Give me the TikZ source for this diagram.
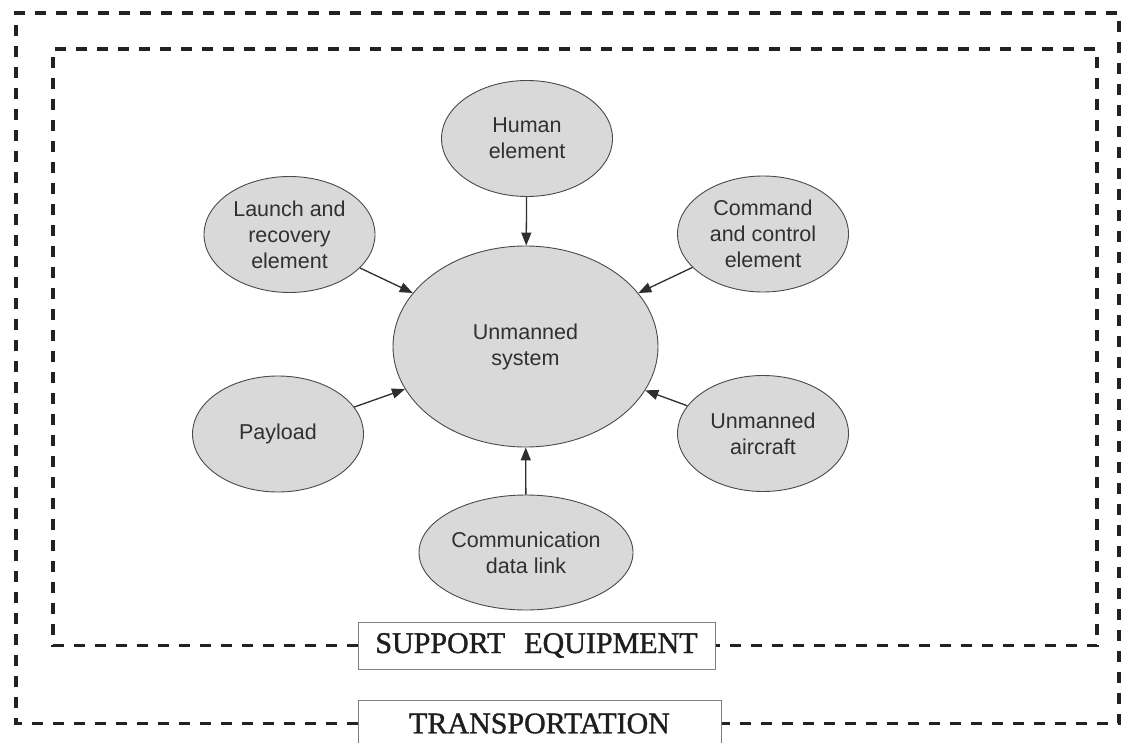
\documentclass[tikz,border=0pt]{standalone}
\usepackage{fontspec}
\setmainfont{Liberation Serif}
\setsansfont{Liberation Sans}
\newfontfamily\labelfont[FakeBold=1.2]{Liberation Serif}
\usetikzlibrary{shapes.geometric,arrows.meta}
\definecolor{ellfill}{HTML}{D9D9D9}
\definecolor{ellline}{HTML}{4A4A4A}
\definecolor{elltext}{HTML}{303030}
\definecolor{arrowcol}{HTML}{2E2E2E}
\definecolor{dashcol}{HTML}{222222}
\definecolor{boxline}{HTML}{808080}
\definecolor{labeltext}{HTML}{1E1E1E}
\begin{document}
\begin{tikzpicture}[x=1pt,y=-1pt,
  part/.style={ellipse, draw=ellline, fill=ellfill, line width=0.9pt,
    inner sep=0pt, align=center, text=elltext,
    font=\sffamily\fontsize{21.5}{26}\selectfont,
    minimum width=171pt, minimum height=116pt},
  link/.style={draw=arrowcol, line width=1.3pt, -{Triangle[length=13pt,width=10pt]}},
  frame/.style={draw=dashcol, line width=3.2pt, dash pattern=on 11pt off 10pt},
  tag/.style={draw=boxline, line width=1pt, fill=white,
    font=\labelfont\fontsize{30}{36}\selectfont, text=labeltext,
    inner sep=0pt, minimum height=47pt}
]
\useasboundingbox (0,0) rectangle (1123,743);
\clip (0,0) rectangle (1123,743);
\fill[white] (0,0) rectangle (1123,743);

% system elements
\node[part] (human)    at (527,138.5) {Human\\element};
\node[part] (launch)   at (289.5,234.5) {Launch and\\recovery\\element};
\node[part] (command)  at (763,234) {Command\\and control\\element};
\node[part, minimum width=265pt, minimum height=201pt] (sys) at (525.5,346.5) {Unmanned\\system};
\node[part] (payload)  at (278,434) {Payload};
\node[part] (aircraft) at (763,433.5) {Unmanned\\aircraft};
\node[part, minimum width=214pt, minimum height=115pt] (comm) at (526,552.5) {Communication\\data link};

% links into the central system
\draw[link] (human) -- (sys);
\draw[link] (launch) -- (sys);
\draw[link] (command) -- (sys);
\draw[link] (payload) -- (sys);
\draw[link] (aircraft) -- (sys);
\draw[link] (comm) -- (sys);

% frame labels
\node[tag, minimum width=357pt] (support) at (536.5,645.5) {SUPPORT\hspace{19pt}EQUIPMENT};
\node[tag, minimum width=363pt] (transport) at (539.5,723.5) {TRANSPORTATION};

% corners of the two dashed frames
\coordinate (inBL) at (53,645.5);
\coordinate (inTL) at (53,49);
\coordinate (inTR) at (1097,49);
\coordinate (inBR) at (1097,645.5);
\coordinate (outBL) at (16,723.5);
\coordinate (outTL) at (16,13);
\coordinate (outTR) at (1119,13);
\coordinate (outBR) at (1119,723.5);

\draw[frame] (support.west) -- (inBL) -- (inTL) -- (inTR) -- (inBR) -- (support.east);
\draw[frame] (transport.west) -- (outBL) -- (outTL) -- (outTR) -- (outBR) -- (transport.east);
\end{tikzpicture}
\end{document}
